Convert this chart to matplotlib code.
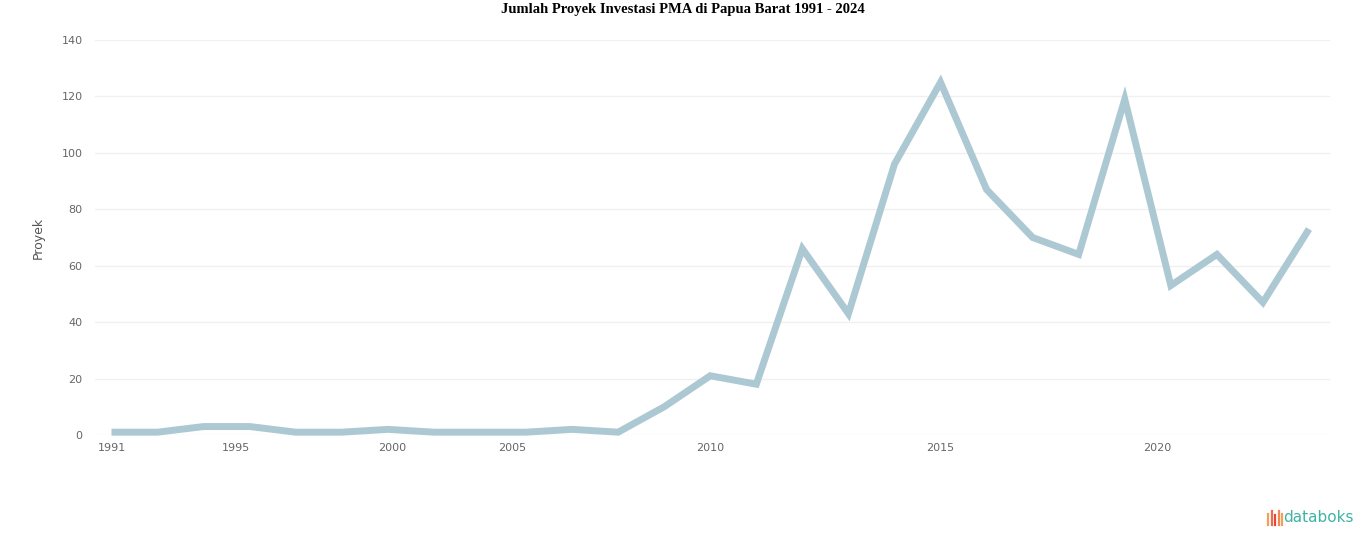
import matplotlib
matplotlib.use("Agg")
import matplotlib.pyplot as plt
from matplotlib.lines import Line2D

# ---- data ----
values = [1, 1, 3, 3, 1, 1, 2, 1, 1, 1, 2, 1, 10, 21, 18, 66, 43, 96, 125,
          87, 70, 64, 119, 53, 64, 47, 73]
tick_positions = [0, 2.7, 6.1, 8.7, 13, 18, 22.7]
tick_labels = ["1991", "1995", "2000", "2005", "2010", "2015", "2020"]
y_ticks = [0, 20, 40, 60, 80, 100, 120, 140]
title = "Jumlah Proyek Investasi PMA di Papua Barat 1991 - 2024"
y_label = "Proyek"

W, H = 1366, 547
fig = plt.figure(figsize=(W / 100, H / 100), dpi=100)
fig.patch.set_facecolor("white")

left, right, top, bottom = 95, 1330, 40, 435
ax = fig.add_axes([left / W, 1 - bottom / H, (right - left) / W, (bottom - top) / H])

x = list(range(len(values)))
ax.plot(x, values, color="#acc9d3", lw=5, solid_joinstyle="miter",
        solid_capstyle="butt", clip_on=False, zorder=3)

n = len(values) - 1
sp = (1309 - 111.5) / n
ax.set_xlim(-(111.5 - left) / sp, n + (right - 1309) / sp)
ax.set_ylim(0, 140)

ax.set_yticks(y_ticks)
ax.set_yticklabels([str(v) for v in y_ticks])
ax.set_xticks(tick_positions)
ax.set_xticklabels(tick_labels)
ax.tick_params(axis="both", length=0, labelsize=8, colors="#666666")
ax.tick_params(axis="y", pad=9)
ax.tick_params(axis="x", pad=6)

ax.grid(axis="y", color="#f0f0f0", lw=1)
ax.set_axisbelow(True)
for s in ax.spines.values():
    s.set_visible(False)

ax.set_ylabel(y_label, fontsize=9, color="#555555", labelpad=12)

fig.text(0.5, 1 - 10 / H, title, ha="center", va="center",
         fontsize=10.5, fontweight="bold", family="Liberation Serif", color="#000000")

# databoks logo
fig.text(1318 / W, 1 - 518 / H, "databoks", ha="center", va="center",
         fontsize=11, color="#3fb3a6", family="DejaVu Sans")
bar_colors = ["#f5a05a", "#ee6a4f", "#e8473f", "#f08a50", "#f5a05a"]
bar_x = [1268, 1271.5, 1275, 1278.5, 1282]
bar_top = [514, 511, 515, 511, 514]
for bx, bt, bc in zip(bar_x, bar_top, bar_colors):
    fig.add_artist(Line2D([bx / W, bx / W], [1 - bt / H, 1 - 525 / H],
                          color=bc, lw=1.6, transform=fig.transFigure))

fig.savefig("out.png", dpi=100)
